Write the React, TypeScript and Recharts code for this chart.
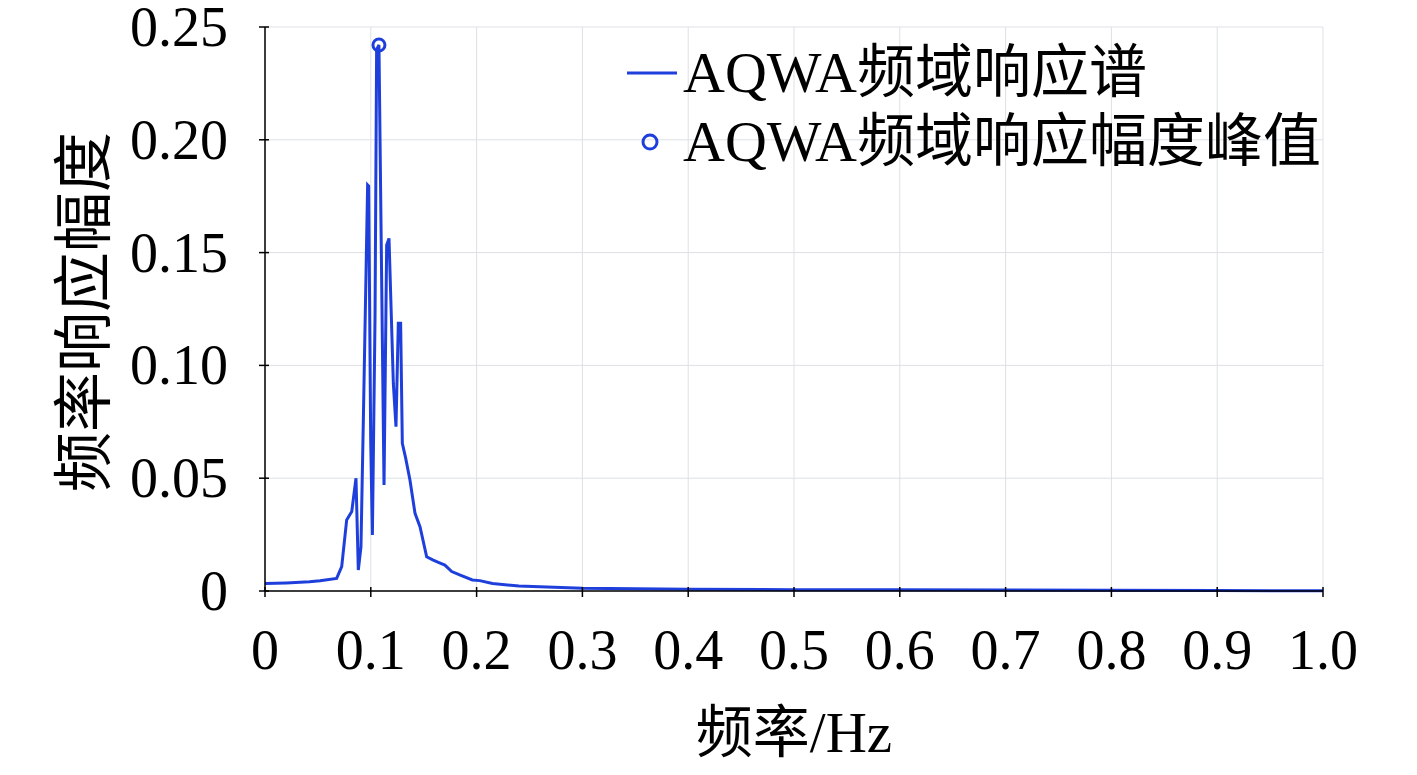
import {
  ComposedChart,
  Line,
  Scatter,
  XAxis,
  YAxis,
  CartesianGrid,
  Legend,
  Label,
} from 'recharts';

// frequency (Hz) and response amplitude
const freq = [
  0, 0.02, 0.042, 0.052, 0.0677, 0.0725, 0.0772, 0.082, 0.086, 0.0882,
  0.0907, 0.093, 0.097, 0.098, 0.0999, 0.1015, 0.104, 0.1055, 0.1077, 0.1125,
  0.115, 0.1172, 0.1213, 0.1238, 0.126, 0.1282, 0.1298, 0.133, 0.137, 0.1418,
  0.1465, 0.1528, 0.159, 0.165, 0.17, 0.1765, 0.184, 0.196, 0.203, 0.215,
  0.24, 0.3, 0.4, 0.5, 0.6, 0.7, 0.8, 0.9, 1.0,
];
const amp = [
  0.0033, 0.0036, 0.0041, 0.0045, 0.0056, 0.0108, 0.0315, 0.0352, 0.05, 0.0093,
  0.0196, 0.077, 0.18, 0.1795, 0.067, 0.0248, 0.1216, 0.24, 0.242, 0.047,
  0.1534, 0.1563, 0.092, 0.0728, 0.1187, 0.1187, 0.0655, 0.0588, 0.0492, 0.0344,
  0.0285, 0.0152, 0.0137, 0.0125, 0.0115, 0.0086, 0.0071, 0.0049, 0.0046, 0.0033,
  0.0022, 0.0012, 0.0008, 0.0006, 0.0005, 0.0004, 0.0003, 0.0002, 0.0001,
];

const peakFreq = [0.1077];
const peakAmp = [0.242];

const xTicks = [0, 0.1, 0.2, 0.3, 0.4, 0.5, 0.6, 0.7, 0.8, 0.9, 1.0];
const xTickLabels = ['0', '0.1', '0.2', '0.3', '0.4', '0.5', '0.6', '0.7', '0.8', '0.9', '1.0'];
const yTicks = [0, 0.05, 0.1, 0.15, 0.2, 0.25];
const yTickLabels = ['0', '0.05', '0.10', '0.15', '0.20', '0.25'];

const spectrum = freq.map((f, i) => ({ x: f, y: amp[i] }));
const peaks = peakFreq.map((f, i) => ({ x: f, y: peakAmp[i] }));

const BLUE = '#1e3fdc';
const FONT = '"Liberation Serif", "Times New Roman", "Noto Sans CJK SC", serif';

const labelFor = (ticks: number[], labels: string[], v: number) => {
  const i = ticks.findIndex((t) => Math.abs(t - v) < 1e-9);
  return i >= 0 ? labels[i] : String(v);
};

const XTick = (props: any) => {
  const { x, y, payload } = props;
  return (
    <g>
      <line x1={x} x2={x} y1={y} y2={y - 10} stroke="#000" strokeWidth={1.5} />
      <text x={x} y={y + 72} textAnchor="middle" fontSize={56} fontFamily={FONT} fill="#000">
        {labelFor(xTicks, xTickLabels, payload.value)}
      </text>
    </g>
  );
};

const YTick = (props: any) => {
  const { x, y, payload } = props;
  return (
    <g>
      <line x1={x} x2={x + 10} y1={y} y2={y} stroke="#000" strokeWidth={1.5} />
      <text x={x - 31} y={y} dy="0.34em" textAnchor="end" fontSize={56} fontFamily={FONT} fill="#000">
        {labelFor(yTicks, yTickLabels, payload.value)}
      </text>
    </g>
  );
};

const LegendBox = () => (
  <div style={{ fontFamily: FONT, fontSize: 58, color: '#000', lineHeight: '69px' }}>
    <div style={{ display: 'flex', alignItems: 'center', height: 69 }}>
      <svg width={56} height={20}>
        <line x1={0} x2={50} y1={10} y2={10} stroke={BLUE} strokeWidth={3} />
      </svg>
      <span style={{ whiteSpace: 'nowrap' }}>AQWA频域响应谱</span>
    </div>
    <div style={{ display: 'flex', alignItems: 'center', height: 69 }}>
      <svg width={56} height={20}>
        <circle cx={23} cy={10} r={7} fill="none" stroke={BLUE} strokeWidth={3} />
      </svg>
      <span style={{ whiteSpace: 'nowrap' }}>AQWA频域响应幅度峰值</span>
    </div>
  </div>
);

const App = () => {
  return (
    <div style={{ position: 'absolute', left: 0, top: 0, background: '#fff' }}>
      <ComposedChart
        width={1417}
        height={775}
        data={spectrum}
        margin={{ top: 27, right: 94, left: 165, bottom: 84 }}
        style={{ overflow: 'visible' }}
      >
        <CartesianGrid stroke="#dde1e4" strokeWidth={1} />
        <XAxis
          dataKey="x"
          type="number"
          domain={[0, 1]}
          ticks={xTicks}
          height={100}
          tickLine={false}
          tickMargin={0}
          tick={<XTick />}
          axisLine={{ stroke: '#000', strokeWidth: 1.5 }}
          interval={0}
        >
          <Label
            content={(p: any) => {
              const vb = p.viewBox;
              return (
                <text
                  x={vb.x + vb.width / 2}
                  y={vb.y + 161}
                  textAnchor="middle"
                  fontSize={57}
                  fontFamily={FONT}
                  fill="#000"
                >
                  频率/Hz
                </text>
              );
            }}
          />
        </XAxis>
        <YAxis
          type="number"
          domain={[0, 0.25]}
          ticks={yTicks}
          width={100}
          tickLine={false}
          tickMargin={0}
          tick={<YTick />}
          axisLine={{ stroke: '#000', strokeWidth: 1.5 }}
          interval={0}
        >
          <Label
            content={(p: any) => {
              const vb = p.viewBox;
              const cx = vb.x + vb.width - 181;
              const cy = vb.y + vb.height / 2 + 3;
              return (
                <text
                  x={cx}
                  y={cy}
                  dy="0.35em"
                  transform={`rotate(-90 ${cx} ${cy})`}
                  textAnchor="middle"
                  fontSize={60}
                  fontFamily={FONT}
                  fill="#000"
                >
                  频率响应幅度
                </text>
              );
            }}
          />
        </YAxis>
        <Legend
          layout="horizontal"
          verticalAlign="middle"
          align="center"
          wrapperStyle={{ left: 627, top: 38, width: 'auto' }}
          content={() => <LegendBox />}
        />
        <Line
          type="linear"
          dataKey="y"
          stroke={BLUE}
          strokeWidth={3}
          dot={false}
          activeDot={false}
          isAnimationActive={false}
        />
        <Scatter
          data={peaks}
          dataKey="y"
          isAnimationActive={false}
          shape={(p: any) => (
            <circle cx={p.cx} cy={p.cy} r={6} fill="none" stroke={BLUE} strokeWidth={3} />
          )}
        />
      </ComposedChart>
    </div>
  );
};

export default App;
